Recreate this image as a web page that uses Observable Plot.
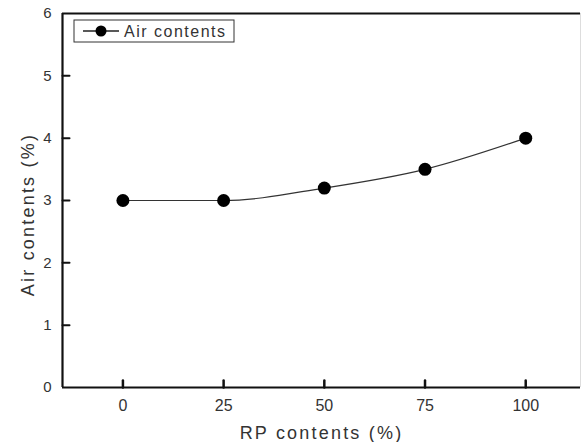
<!DOCTYPE html>
<html>
<head>
<meta charset="utf-8">
<script src="https://cdn.jsdelivr.net/npm/d3@7"></script>
<script src="https://cdn.jsdelivr.net/npm/@observablehq/plot@0.6"></script>
<style>
  html, body { margin: 0; padding: 0; background: #fff; }
</style>
</head>
<body>
<div id="chart"></div>
<script>
// data
const rpContents = [0, 25, 50, 75, 100];
const airContents = [3.0, 3.0, 3.2, 3.5, 4.0];
const xTicks = [0, 25, 50, 75, 100];
const yTicks = [0, 1, 2, 3, 4, 5, 6];
const xLabel = "RP contents (%)";
const yLabel = "Air contents (%)";
const seriesName = "Air contents";

const rows = rpContents.map((x, i) => ({x, y: airContents[i]}));
const font = "'Liberation Sans', Arial, sans-serif";
const xMin = -15, xMax = 113.6, yMin = 0, yMax = 6;

// plain line shape for inward tick marks
const tickShape = {draw(context, l) { context.moveTo(0, 0); context.lineTo(0, -l); }};

const plot = Plot.plot({
  width: 584,
  height: 442,
  marginLeft: 62,
  marginRight: 4,
  marginTop: 13,
  marginBottom: 55,
  x: {domain: [xMin, xMax]},
  y: {domain: [yMin, yMax]},
  style: {fontFamily: font, background: "#fff", color: "#333"},
  marks: [
    // frame
    Plot.ruleX([xMax], {stroke: "#ddd", strokeWidth: 1}),
    Plot.ruleY([yMin, yMax], {stroke: "#111", strokeWidth: 2.2}),
    Plot.ruleX([xMin], {stroke: "#111", strokeWidth: 2.2}),
    // inward ticks
    Plot.vector(xTicks, {x: d => d, y: yMin, length: 7, rotate: 0, anchor: "start", shape: tickShape, stroke: "#111", strokeWidth: 2.5}),
    Plot.vector(yTicks.filter(d => d > yMin && d < yMax), {x: xMin, y: d => d, length: 7, rotate: 90, anchor: "start", shape: tickShape, stroke: "#111", strokeWidth: 2}),
    // tick labels
    Plot.axisX(xTicks, {anchor: "bottom", tickSize: 0, tickPadding: 12, fontSize: 16, fill: "#333", label: null, tickFormat: d => String(d)}),
    Plot.axisY(yTicks, {anchor: "left", tickSize: 0, tickPadding: 11, fontSize: 15, fill: "#333", label: null, tickFormat: d => String(d)}),
    // axis titles
    Plot.text([xLabel], {text: d => d, frameAnchor: "bottom", textAnchor: "middle", lineAnchor: "bottom", dy: 51, fontSize: 18, fill: "#333"}),
    Plot.text([yLabel], {text: d => d, frameAnchor: "left", textAnchor: "middle", lineAnchor: "bottom", rotate: -90, dx: -29, dy: 14, fontSize: 18, fill: "#333"}),
    // data
    Plot.line(rows, {x: "x", y: "y", curve: "monotone-x", stroke: "#333", strokeWidth: 1.2}),
    Plot.dot(rows, {x: "x", y: "y", r: 6.5, fill: "#000", stroke: "none"})
  ]
});

// letter spacing for titles
d3.select(plot).selectAll("g[aria-label='text'] text").style("letter-spacing", "2.2px");

// legend (inside plot area, top-left)
const svg = d3.select(plot);
const lg = svg.append("g").attr("font-family", font).attr("text-anchor", "start");
lg.append("rect").attr("x", 74).attr("y", 20).attr("width", 160).attr("height", 22)
  .attr("fill", "#fff").attr("stroke", "#333").attr("stroke-width", 1);
lg.append("line").attr("x1", 83).attr("x2", 119).attr("y1", 31).attr("y2", 31)
  .attr("stroke", "#222").attr("stroke-width", 1.5).attr("fill", "none");
lg.append("circle").attr("cx", 101).attr("cy", 31).attr("r", 5.5).attr("fill", "#000").attr("stroke", "none");
lg.append("text").attr("x", 124).attr("y", 37).attr("font-size", 16).attr("text-anchor", "start")
  .attr("fill", "#333").style("letter-spacing", "1.5px").text(seriesName);

document.getElementById("chart").append(plot);
</script>
</body>
</html>
